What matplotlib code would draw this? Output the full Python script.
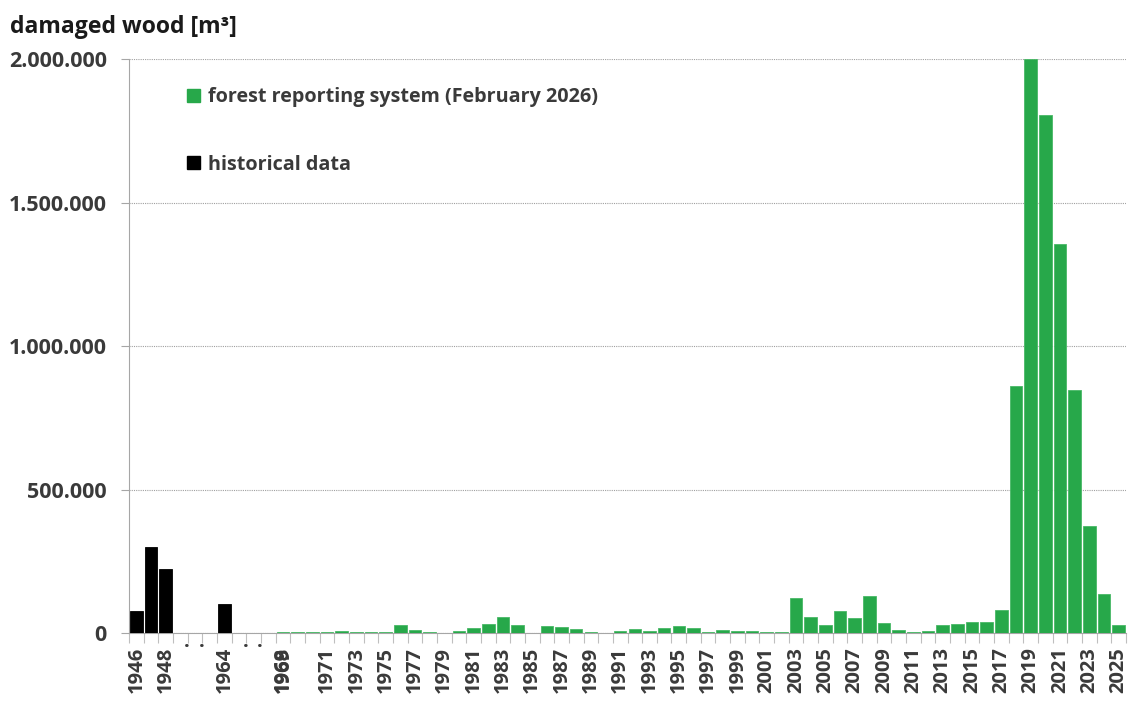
import numpy as np
import matplotlib.pyplot as plt
from matplotlib.patches import Patch
from matplotlib.ticker import FuncFormatter, FixedLocator

plt.rcParams['font.family'] = ['Open Sans', 'DejaVu Sans']
plt.rcParams['font.weight'] = 'bold'

# category slots along the x axis (gaps in the historical record shown as dots)
categories = ['1946', '1947', '1948', '.', '.', '', '1964', '.', '.', '',
              '1968', '1969', '1970', '1971', '1972', '1973', '1974', '1975',
              '1976', '1977', '1978', '1979', '1980', '1981', '1982', '1983',
              '1984', '1985', '1986', '1987', '1988', '1989', '1990', '1991',
              '1992', '1993', '1994', '1995', '1996', '1997', '1998', '1999',
              '2000', '2001', '2002', '2003', '2004', '2005', '2006', '2007',
              '2008', '2009', '2010', '2011', '2012', '2013', '2014', '2015',
              '2016', '2017', '2018', '2019', '2020', '2021', '2022', '2023',
              '2024', '2025']

historical_years = ['1946', '1947', '1948', '1964']
historical_values = [75000, 300000, 222000, 100000]

forest_years = categories[10:]
forest_values = [2000, 2500, 3000, 5000, 7000, 5000, 4000, 5000,
                 29000, 12000, 5000, 1000, 7000, 17000, 31000, 56000,
                 29000, 1000, 24000, 21000, 14000, 5000, 1000, 8000,
                 14000, 8000, 16000, 24000, 19000, 5000, 12000, 7000,
                 8000, 3000, 2000, 123000, 56000, 27000, 76000, 52000,
                 128000, 35000, 12000, 5000, 6000, 27000, 33000, 37000,
                 38000, 80000, 860000, 2000000, 1806000, 1355000, 848000, 374000,
                 135000, 27000]

shown_labels = ['1946', '1948', '.', '1964', '1968'] + \
    [y for y in forest_years if int(y) >= 1971 and int(y) % 2 == 1]

green = '#27a84a'
text_col = '#3a3a3a'

fig = plt.figure(figsize=(11.28, 7.02), dpi=100)
ax = fig.add_axes([129 / 1128, 1 - 633 / 702, 997 / 1128, (633 - 59.3) / 702])

x_hist = [categories.index(y) for y in historical_years]
x_forest = [categories.index(y) for y in forest_years]

ax.bar(x_hist, historical_values, width=0.86, color='black', edgecolor='black',
       linewidth=0.6, zorder=3)
ax.bar(x_forest, forest_values, width=0.86, color=green, edgecolor='#49b866',
       linewidth=0.6, zorder=3)

ax.set_xlim(-0.5, len(categories) - 0.5)
ax.set_ylim(0, 2000000)

# y axis
ax.set_yticks([0, 500000, 1000000, 1500000, 2000000])
ax.yaxis.set_major_formatter(FuncFormatter(lambda v, p: f'{int(v):,}'.replace(',', '.')))
ax.tick_params(axis='y', length=6, width=0.8, color='#a6a6a6', pad=10,
               labelsize=15.5, labelcolor=text_col)
ax.grid(axis='y', color='#a0a0a0', linestyle=(0, (1, 1)), linewidth=0.8, zorder=0)

# x axis: tick marks on slot boundaries, labels on slot centres
ax.xaxis.set_major_locator(FixedLocator(np.arange(len(categories) + 1) - 0.5))
ax.xaxis.set_major_formatter(FuncFormatter(lambda v, p: ''))
ax.tick_params(axis='x', which='major', length=7, width=0.8, color='#bfbfbf')

# gap dots sit on the baseline side of the slot, so shift them a little right
label_pos = [i + 0.45 if categories[i] == '.' else i
             for i, c in enumerate(categories) if c in shown_labels]
label_txt = [c for c in categories if c in shown_labels]
label_pos.append(categories.index('1968') + 0.08)
label_txt.append('1969')
ax.set_xticks(label_pos, minor=True)
ax.set_xticklabels(label_txt, minor=True, rotation=90, fontsize=14.5,
                   color=text_col, fontweight='bold')
ax.tick_params(axis='x', which='minor', length=0, pad=10)
for lab in ax.get_xticklabels(minor=True):
    if lab.get_text() == '.':
        lab.set_rotation(0)
        lab.set_verticalalignment('baseline')

for side in ['top', 'right']:
    ax.spines[side].set_visible(False)
ax.spines['left'].set_color('#a6a6a6')
ax.spines['bottom'].set_color('#a6a6a6')
ax.spines['left'].set_linewidth(0.8)
ax.spines['bottom'].set_linewidth(0.8)

handles = [Patch(facecolor=green, edgecolor=green, label='forest reporting system (February 2026)'),
           Patch(facecolor='black', edgecolor='black', label='historical data')]
leg = ax.legend(handles=handles, loc='upper left', bbox_to_anchor=(0.058, 0.951),
                frameon=False, fontsize=14.2, handlelength=0.65, handleheight=0.65,
                handletextpad=0.4, labelspacing=2.4, borderpad=0, borderaxespad=0)
for t in leg.get_texts():
    t.set_color(text_col)

fig.text(10 / 1128, 1 - 33 / 702, 'damaged wood [m³]', fontsize=16.6,
         fontweight='bold', color='#1a1a1a', va='baseline')

fig.savefig('out.png', dpi=100)
